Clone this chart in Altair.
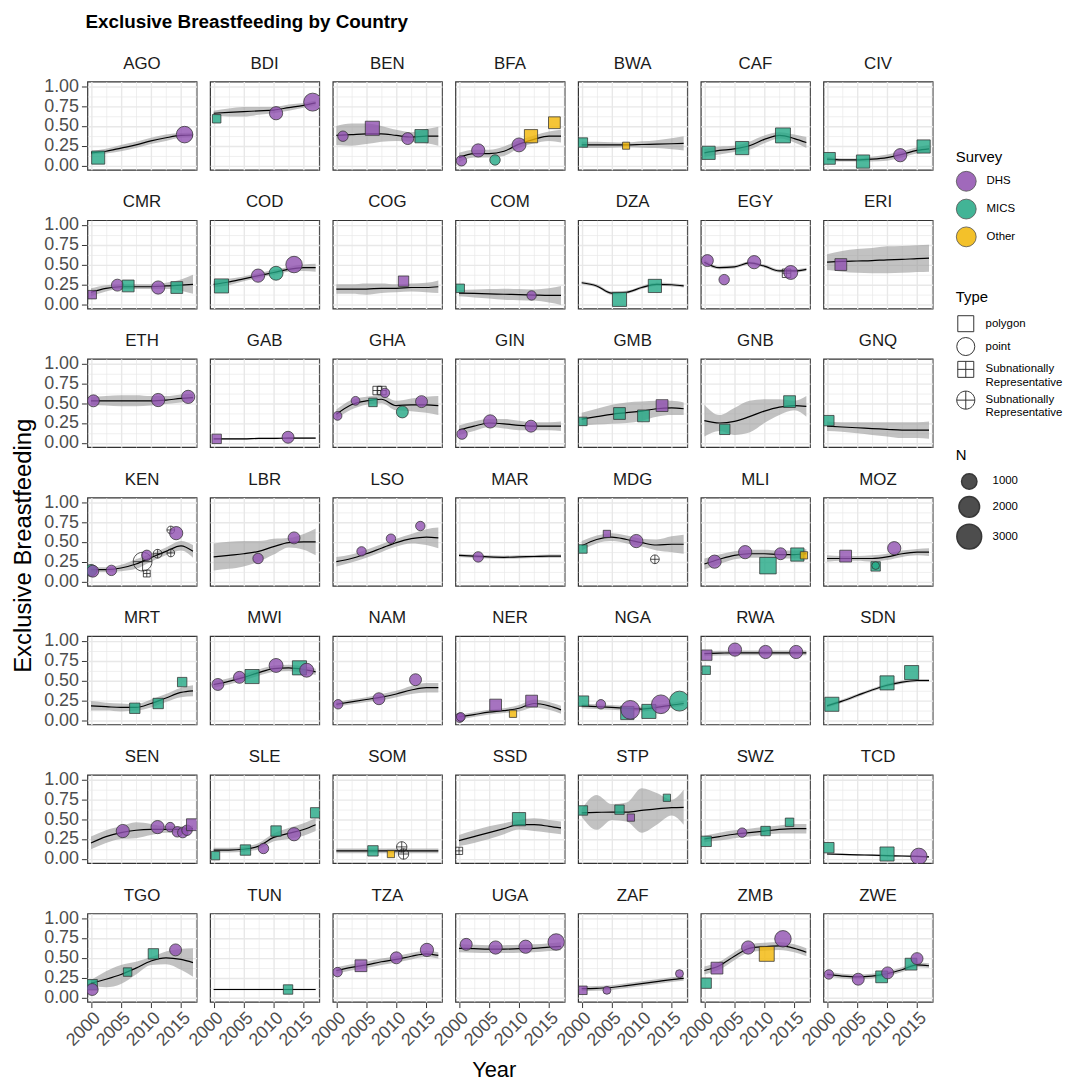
import altair as alt
import pandas as pd

FONT = "Liberation Sans"

COUNTRIES = ["AGO", "BDI", "BEN", "BFA", "BWA", "CAF", "CIV",
             "CMR", "COD", "COG", "COM", "DZA", "EGY", "ERI",
             "ETH", "GAB", "GHA", "GIN", "GMB", "GNB", "GNQ",
             "KEN", "LBR", "LSO", "MAR", "MDG", "MLI", "MOZ",
             "MRT", "MWI", "NAM", "NER", "NGA", "RWA", "SDN",
             "SEN", "SLE", "SOM", "SSD", "STP", "SWZ", "TCD",
             "TGO", "TUN", "TZA", "UGA", "ZAF", "ZMB", "ZWE"]

FIT_YEARS = [2000, 2002.5, 2005, 2007.5, 2010, 2012.5, 2015, 2017]

SURVEYS = ["DHS", "MICS", "Other"]
SURVEY_COLORS = ["#9050B0", "#22A884", "#F2B705"]
TYPES = ["polygon", "point", "subpoly", "subpoint"]

# points: (year, value, survey, type, N)
AGO_PTS = [(2001.2, 0.10, "MICS", "polygon", 900), (2015.6, 0.39, "DHS", "point", 1200)]
AGO_FIT = [0.16, 0.18, 0.22, 0.26, 0.31, 0.35, 0.38, 0.385]
AGO_BW = [0.02, 0.03, 0.04, 0.04, 0.04, 0.04, 0.03, 0.03]

BDI_PTS = [(2000.5, 0.59, "MICS", "polygon", 230), (2010.4, 0.66, "DHS", "point", 670), (2016.5, 0.80, "DHS", "point", 1450)]
BDI_FIT = [0.66, 0.67, 0.68, 0.69, 0.70, 0.73, 0.76, 0.79]
BDI_BW = [0.03, 0.05, 0.06, 0.05, 0.04, 0.04, 0.03, 0.03]

BEN_PTS = [(2001.1, 0.37, "DHS", "point", 320), (2006.0, 0.47, "DHS", "polygon", 1080), (2011.9, 0.34, "DHS", "point", 500), (2014.2, 0.37, "MICS", "polygon", 920)]
BEN_FIT = [0.38, 0.39, 0.40, 0.40, 0.38, 0.36, 0.37, 0.37]
BEN_BW = [0.12, 0.14, 0.13, 0.10, 0.07, 0.06, 0.09, 0.12]

BFA_PTS = [(2000.4, 0.06, "DHS", "point", 320), (2003.2, 0.19, "DHS", "point", 670), (2006.0, 0.07, "MICS", "point", 320), (2010.0, 0.26, "DHS", "point", 770), (2012.0, 0.37, "Other", "polygon", 920), (2015.9, 0.54, "Other", "polygon", 680)]
BFA_FIT = [0.10, 0.15, 0.15, 0.18, 0.27, 0.33, 0.37, 0.37]
BFA_BW = [0.06, 0.05, 0.05, 0.06, 0.05, 0.05, 0.06, 0.08]

BWA_PTS = [(2000.2, 0.29, "MICS", "polygon", 340), (2007.4, 0.25, "Other", "polygon", 80)]
BWA_FIT = [0.26, 0.26, 0.26, 0.26, 0.265, 0.27, 0.275, 0.28]
BWA_BW = [0.04, 0.04, 0.035, 0.03, 0.04, 0.05, 0.07, 0.09]

CAF_PTS = [(2000.7, 0.16, "MICS", "polygon", 920), (2006.3, 0.22, "MICS", "polygon", 920), (2013.1, 0.38, "MICS", "polygon", 1250)]
CAF_FIT = [0.16, 0.19, 0.21, 0.25, 0.33, 0.38, 0.34, 0.29]
CAF_BW = [0.05, 0.05, 0.04, 0.05, 0.05, 0.04, 0.05, 0.07]

CIV_PTS = [(2000.4, 0.09, "MICS", "polygon", 680), (2006.0, 0.05, "MICS", "polygon", 920), (2012.2, 0.13, "DHS", "point", 670), (2016.1, 0.24, "MICS", "polygon", 920)]
CIV_FIT = [0.08, 0.07, 0.07, 0.08, 0.10, 0.14, 0.19, 0.21]
CIV_BW = [0.03, 0.02, 0.02, 0.03, 0.04, 0.04, 0.04, 0.05]

CMR_PTS = [(2000.2, 0.12, "DHS", "polygon", 230), (2004.4, 0.24, "DHS", "point", 500), (2006.2, 0.23, "MICS", "polygon", 680), (2011.2, 0.21, "DHS", "point", 670), (2014.3, 0.21, "MICS", "polygon", 680)]
CMR_FIT = [0.15, 0.20, 0.22, 0.22, 0.22, 0.23, 0.24, 0.25]
CMR_BW = [0.05, 0.04, 0.03, 0.03, 0.03, 0.04, 0.07, 0.12]

COD_PTS = [(2001.3, 0.23, "MICS", "polygon", 1080), (2007.4, 0.36, "DHS", "point", 670), (2010.4, 0.39, "MICS", "point", 770), (2013.4, 0.50, "DHS", "point", 1180)]
COD_FIT = [0.25, 0.28, 0.32, 0.36, 0.40, 0.44, 0.46, 0.46]
COD_BW = [0.04, 0.04, 0.03, 0.03, 0.03, 0.03, 0.04, 0.05]

COG_PTS = [(2011.2, 0.29, "DHS", "polygon", 470)]
COG_FIT = [0.19, 0.19, 0.19, 0.20, 0.20, 0.21, 0.21, 0.22]
COG_BW = [0.06, 0.06, 0.07, 0.06, 0.05, 0.05, 0.06, 0.08]

COM_PTS = [(2000.2, 0.20, "MICS", "polygon", 230), (2012.1, 0.11, "DHS", "point", 215)]
COM_FIT = [0.14, 0.135, 0.13, 0.125, 0.12, 0.115, 0.11, 0.11]
COM_BW = [0.04, 0.05, 0.06, 0.07, 0.07, 0.07, 0.09, 0.12]

DZA_PTS = [(2006.3, 0.06, "MICS", "polygon", 1080), (2012.2, 0.23, "MICS", "polygon", 920)]
DZA_FIT = [0.27, 0.23, 0.14, 0.15, 0.21, 0.25, 0.245, 0.23]
DZA_BW = [0.02, 0.02, 0.02, 0.02, 0.02, 0.02, 0.02, 0.02]

EGY_PTS = [(2000.5, 0.55, "DHS", "point", 500), (2003.3, 0.31, "DHS", "point", 320), (2008.3, 0.53, "DHS", "point", 670), (2013.7, 0.39, "DHS", "subpoly", 230), (2014.4, 0.40, "DHS", "point", 770)]
EGY_FIT = [0.53, 0.46, 0.47, 0.52, 0.48, 0.42, 0.42, 0.44]
EGY_BW = [0.03, 0.02, 0.02, 0.02, 0.02, 0.02, 0.02, 0.02]

ERI_PTS = [(2002.3, 0.50, "DHS", "polygon", 680)]
ERI_FIT = [0.53, 0.54, 0.545, 0.55, 0.56, 0.565, 0.575, 0.58]
ERI_BW = [0.10, 0.13, 0.15, 0.16, 0.17, 0.17, 0.17, 0.17]

ETH_PTS = [(2000.4, 0.53, "DHS", "point", 500), (2011.2, 0.54, "DHS", "point", 670), (2016.2, 0.58, "DHS", "point", 670)]
ETH_FIT = [0.53, 0.53, 0.53, 0.53, 0.53, 0.54, 0.56, 0.57]
ETH_BW = [0.05, 0.06, 0.07, 0.07, 0.06, 0.05, 0.05, 0.05]

GAB_PTS = [(2000.5, 0.05, "DHS", "polygon", 340), (2012.4, 0.07, "DHS", "point", 500)]
GAB_FIT = [0.05, 0.05, 0.05, 0.055, 0.055, 0.06, 0.06, 0.06]
GAB_BW = [0.01, 0.01, 0.01, 0.01, 0.01, 0.01, 0.01, 0.01]

GHA_PTS = [(2000.2, 0.34, "DHS", "point", 150), (2003.2, 0.53, "DHS", "point", 150), (2006.1, 0.51, "MICS", "polygon", 230), (2006.8, 0.66, "DHS", "subpoly", 230), (2007.6, 0.66, "DHS", "subpoly", 230), (2008.1, 0.63, "DHS", "point", 215), (2011.0, 0.39, "MICS", "point", 500), (2014.2, 0.52, "DHS", "point", 500)]
GHA_FIT = [0.36, 0.48, 0.53, 0.55, 0.47, 0.48, 0.48, 0.47]
GHA_BW = [0.06, 0.06, 0.05, 0.05, 0.06, 0.08, 0.10, 0.12]

GIN_PTS = [(2000.5, 0.11, "DHS", "point", 320), (2005.2, 0.27, "DHS", "point", 670), (2012.0, 0.21, "DHS", "point", 500)]
GIN_FIT = [0.16, 0.21, 0.25, 0.24, 0.22, 0.21, 0.21, 0.21]
GIN_BW = [0.06, 0.06, 0.05, 0.06, 0.06, 0.05, 0.05, 0.06]

GMB_PTS = [(2000.2, 0.27, "MICS", "polygon", 230), (2006.3, 0.37, "MICS", "polygon", 680), (2010.3, 0.34, "MICS", "polygon", 680), (2013.4, 0.47, "DHS", "polygon", 680)]
GMB_FIT = [0.30, 0.33, 0.36, 0.38, 0.40, 0.43, 0.44, 0.43]
GMB_BW = [0.08, 0.10, 0.12, 0.13, 0.12, 0.10, 0.09, 0.08]

GNB_PTS = [(2003.4, 0.17, "MICS", "polygon", 470), (2014.2, 0.52, "MICS", "polygon", 680)]
GNB_FIT = [0.28, 0.25, 0.27, 0.33, 0.40, 0.45, 0.47, 0.46]
GNB_BW = [0.20, 0.10, 0.17, 0.20, 0.15, 0.10, 0.06, 0.13]

GNQ_PTS = [(2000.3, 0.28, "MICS", "polygon", 470)]
GNQ_FIT = [0.21, 0.20, 0.19, 0.18, 0.17, 0.16, 0.16, 0.16]
GNQ_BW = [0.06, 0.06, 0.07, 0.08, 0.09, 0.10, 0.10, 0.11]

KEN_PTS = [(2000.0, 0.14, "MICS", "point", 500), (2000.3, 0.13, "DHS", "point", 500), (2003.4, 0.14, "DHS", "point", 320), (2008.6, 0.25, "DHS", "subpoint", 1600), (2009.3, 0.10, "DHS", "subpoly", 60), (2009.3, 0.33, "DHS", "point", 320), (2011.1, 0.35, "DHS", "subpoint", 150), (2013.3, 0.65, "DHS", "subpoint", 60), (2013.3, 0.36, "DHS", "subpoint", 60), (2014.2, 0.61, "DHS", "point", 670)]
KEN_FIT = [0.15, 0.15, 0.17, 0.22, 0.30, 0.38, 0.45, 0.38]
KEN_BW = [0.03, 0.03, 0.04, 0.06, 0.05, 0.05, 0.06, 0.08]

LBR_PTS = [(2007.4, 0.29, "DHS", "point", 320), (2013.4, 0.55, "DHS", "point", 500)]
LBR_FIT = [0.31, 0.33, 0.35, 0.38, 0.44, 0.49, 0.50, 0.50]
LBR_BW = [0.17, 0.17, 0.16, 0.13, 0.10, 0.06, 0.10, 0.17]

LSO_PTS = [(2004.2, 0.38, "DHS", "point", 215), (2009.1, 0.54, "DHS", "point", 215), (2014.0, 0.70, "DHS", "point", 215)]
LSO_FIT = [0.25, 0.29, 0.35, 0.42, 0.49, 0.54, 0.56, 0.55]
LSO_BW = [0.06, 0.05, 0.05, 0.05, 0.05, 0.06, 0.10, 0.13]

MAR_PTS = [(2003.2, 0.31, "DHS", "point", 320)]
MAR_FIT = [0.33, 0.32, 0.31, 0.305, 0.31, 0.315, 0.32, 0.32]
MAR_BW = [0.02, 0.02, 0.02, 0.02, 0.02, 0.02, 0.02, 0.02]

MDG_PTS = [(2000.2, 0.41, "MICS", "polygon", 230), (2004.2, 0.60, "DHS", "polygon", 100), (2009.1, 0.51, "DHS", "point", 670), (2012.2, 0.28, "DHS", "subpoint", 150)]
MDG_FIT = [0.45, 0.53, 0.56, 0.53, 0.49, 0.46, 0.47, 0.47]
MDG_BW = [0.06, 0.05, 0.05, 0.05, 0.05, 0.07, 0.10, 0.12]

MLI_PTS = [(2001.7, 0.25, "DHS", "point", 670), (2006.8, 0.37, "DHS", "point", 670), (2010.6, 0.20, "MICS", "polygon", 1580), (2012.7, 0.35, "DHS", "point", 500), (2015.5, 0.34, "MICS", "polygon", 920), (2016.6, 0.33, "Other", "polygon", 100)]
MLI_FIT = [0.22, 0.28, 0.33, 0.35, 0.35, 0.34, 0.34, 0.35]
MLI_BW = [0.07, 0.06, 0.05, 0.05, 0.05, 0.05, 0.05, 0.06]

MOZ_PTS = [(2003.1, 0.32, "DHS", "polygon", 680), (2008.1, 0.19, "MICS", "polygon", 340), (2008.1, 0.20, "MICS", "point", 60), (2011.2, 0.42, "DHS", "point", 670)]
MOZ_FIT = [0.29, 0.29, 0.29, 0.29, 0.31, 0.35, 0.37, 0.37]
MOZ_BW = [0.04, 0.03, 0.03, 0.04, 0.04, 0.04, 0.04, 0.05]

MRT_PTS = [(2007.3, 0.15, "MICS", "polygon", 470), (2011.2, 0.21, "MICS", "polygon", 470), (2015.2, 0.48, "MICS", "polygon", 340)]
MRT_FIT = [0.18, 0.17, 0.16, 0.16, 0.21, 0.28, 0.35, 0.37]
MRT_BW = [0.06, 0.05, 0.05, 0.04, 0.05, 0.05, 0.06, 0.07]

MWI_PTS = [(2000.7, 0.45, "DHS", "point", 500), (2004.3, 0.54, "DHS", "point", 500), (2006.4, 0.55, "MICS", "polygon", 1080), (2010.4, 0.69, "DHS", "point", 770), (2014.3, 0.66, "MICS", "polygon", 1080), (2015.5, 0.63, "DHS", "point", 770)]
MWI_FIT = [0.45, 0.49, 0.54, 0.60, 0.65, 0.66, 0.64, 0.61]
MWI_BW = [0.04, 0.04, 0.04, 0.04, 0.04, 0.04, 0.04, 0.04]

NAM_PTS = [(2000.3, 0.20, "DHS", "point", 215), (2007.1, 0.27, "DHS", "point", 500), (2013.2, 0.51, "DHS", "point", 500)]
NAM_FIT = [0.20, 0.23, 0.26, 0.29, 0.33, 0.38, 0.41, 0.41]
NAM_BW = [0.03, 0.03, 0.03, 0.04, 0.04, 0.05, 0.06, 0.06]

NER_PTS = [(2000.1, 0.03, "DHS", "point", 215), (2000.3, 0.04, "DHS", "point", 150), (2006.1, 0.19, "DHS", "polygon", 680), (2009.0, 0.08, "Other", "polygon", 100), (2012.1, 0.24, "DHS", "polygon", 680)]
NER_FIT = [0.04, 0.07, 0.10, 0.12, 0.15, 0.21, 0.18, 0.13]
NER_BW = [0.03, 0.03, 0.03, 0.03, 0.04, 0.05, 0.05, 0.05]

NGA_PTS = [(2000.3, 0.24, "MICS", "polygon", 470), (2003.2, 0.20, "DHS", "point", 215), (2007.6, 0.09, "MICS", "polygon", 920), (2008.1, 0.13, "DHS", "point", 1600), (2011.2, 0.11, "MICS", "polygon", 1080), (2013.2, 0.20, "DHS", "point", 1600), (2016.3, 0.24, "MICS", "point", 1850)]
NGA_FIT = [0.18, 0.17, 0.16, 0.15, 0.14, 0.16, 0.19, 0.21]
NGA_BW = [0.03, 0.03, 0.03, 0.03, 0.03, 0.03, 0.03, 0.03]

RWA_PTS = [(2000.4, 0.82, "DHS", "polygon", 470), (2000.3, 0.63, "MICS", "polygon", 230), (2005.1, 0.89, "DHS", "point", 670), (2010.2, 0.86, "DHS", "point", 670), (2015.3, 0.86, "DHS", "point", 670)]
RWA_FIT = [0.84, 0.845, 0.85, 0.85, 0.85, 0.85, 0.85, 0.85]
RWA_BW = [0.03, 0.03, 0.03, 0.03, 0.03, 0.03, 0.03, 0.03]

SDN_PTS = [(2000.8, 0.20, "MICS", "polygon", 1080), (2010.0, 0.47, "MICS", "polygon", 1080), (2014.1, 0.60, "MICS", "polygon", 1080)]
SDN_FIT = [0.18, 0.24, 0.31, 0.38, 0.44, 0.48, 0.50, 0.50]
SDN_BW = [0.02, 0.02, 0.02, 0.02, 0.02, 0.02, 0.02, 0.02]

SEN_PTS = [(2005.3, 0.35, "DHS", "point", 670), (2011.1, 0.40, "DHS", "point", 670), (2013.2, 0.40, "DHS", "point", 215), (2014.4, 0.34, "DHS", "point", 320), (2015.3, 0.33, "DHS", "point", 320), (2016.0, 0.36, "DHS", "point", 320), (2016.9, 0.43, "DHS", "polygon", 680)]
SEN_FIT = [0.20, 0.28, 0.33, 0.36, 0.37, 0.37, 0.37, 0.38]
SEN_BW = [0.08, 0.08, 0.08, 0.10, 0.07, 0.04, 0.04, 0.04]

SLE_PTS = [(2000.3, 0.04, "MICS", "polygon", 230), (2005.3, 0.11, "MICS", "polygon", 470), (2008.3, 0.13, "DHS", "point", 320), (2010.4, 0.35, "MICS", "polygon", 470), (2013.4, 0.31, "DHS", "point", 670), (2017.0, 0.58, "MICS", "polygon", 470)]
SLE_FIT = [0.11, 0.11, 0.12, 0.16, 0.27, 0.32, 0.37, 0.43]
SLE_BW = [0.03, 0.03, 0.03, 0.04, 0.05, 0.07, 0.08, 0.08]

SOM_PTS = [(2006.1, 0.10, "MICS", "polygon", 470), (2009.1, 0.06, "Other", "polygon", 100), (2010.9, 0.15, "DHS", "subpoint", 320), (2011.2, 0.06, "DHS", "subpoint", 320)]
SOM_FIT = [0.10, 0.10, 0.10, 0.10, 0.10, 0.10, 0.10, 0.10]
SOM_BW = [0.03, 0.03, 0.03, 0.03, 0.03, 0.03, 0.03, 0.03]

SSD_PTS = [(2000.0, 0.10, "DHS", "subpoly", 100), (2010.0, 0.50, "MICS", "polygon", 920)]
SSD_FIT = [0.23, 0.28, 0.33, 0.38, 0.43, 0.43, 0.41, 0.39]
SSD_BW = [0.07, 0.08, 0.08, 0.07, 0.06, 0.08, 0.08, 0.08]

STP_PTS = [(2000.2, 0.61, "MICS", "polygon", 340), (2006.3, 0.62, "MICS", "polygon", 340), (2008.2, 0.52, "DHS", "polygon", 100), (2014.2, 0.77, "MICS", "polygon", 100)]
STP_FIT = [0.58, 0.585, 0.59, 0.59, 0.61, 0.63, 0.645, 0.65]
STP_BW = [0.05, 0.22, 0.10, 0.12, 0.28, 0.20, 0.10, 0.22]

SWZ_PTS = [(2000.3, 0.22, "MICS", "polygon", 470), (2006.3, 0.33, "DHS", "point", 215), (2010.2, 0.35, "MICS", "polygon", 340), (2014.2, 0.46, "MICS", "polygon", 230)]
SWZ_FIT = [0.25, 0.28, 0.31, 0.33, 0.35, 0.37, 0.38, 0.38]
SWZ_BW = [0.04, 0.05, 0.05, 0.05, 0.05, 0.05, 0.06, 0.06]

TCD_PTS = [(2000.3, 0.14, "MICS", "polygon", 470), (2010.0, 0.06, "MICS", "polygon", 1080), (2015.3, 0.03, "DHS", "point", 1180)]
TCD_FIT = [0.06, 0.055, 0.05, 0.045, 0.04, 0.035, 0.03, 0.025]
TCD_BW = [0.01, 0.01, 0.01, 0.01, 0.01, 0.01, 0.01, 0.01]

TGO_PTS = [(2000.2, 0.16, "MICS", "polygon", 470), (2000.2, 0.10, "DHS", "point", 500), (2006.1, 0.32, "MICS", "polygon", 230), (2010.4, 0.55, "MICS", "polygon", 470), (2014.1, 0.60, "DHS", "point", 500)]
TGO_FIT = [0.18, 0.23, 0.29, 0.37, 0.46, 0.50, 0.48, 0.44]
TGO_BW = [0.04, 0.10, 0.12, 0.08, 0.05, 0.08, 0.13, 0.18]

TUN_PTS = [(2012.4, 0.10, "MICS", "polygon", 340)]
TUN_FIT = [0.10, 0.10, 0.10, 0.10, 0.10, 0.10, 0.10, 0.10]
TUN_BW = [0.01, 0.01, 0.01, 0.01, 0.01, 0.01, 0.01, 0.01]

TZA_PTS = [(2000.2, 0.32, "DHS", "point", 215), (2004.1, 0.40, "DHS", "polygon", 680), (2010.0, 0.50, "DHS", "point", 500), (2015.1, 0.60, "DHS", "point", 670)]
TZA_FIT = [0.34, 0.38, 0.41, 0.45, 0.48, 0.52, 0.55, 0.53]
TZA_BW = [0.04, 0.04, 0.04, 0.04, 0.04, 0.04, 0.04, 0.04]

UGA_PTS = [(2001.2, 0.67, "DHS", "point", 500), (2006.1, 0.63, "DHS", "point", 670), (2011.1, 0.64, "DHS", "point", 670), (2016.2, 0.70, "DHS", "point", 1180)]
UGA_FIT = [0.62, 0.615, 0.61, 0.61, 0.615, 0.62, 0.635, 0.645]
UGA_BW = [0.05, 0.05, 0.05, 0.05, 0.05, 0.05, 0.05, 0.05]

ZAF_PTS = [(2000.2, 0.09, "DHS", "polygon", 230), (2004.2, 0.09, "DHS", "point", 80), (2016.3, 0.30, "DHS", "point", 80)]
ZAF_FIT = [0.11, 0.115, 0.125, 0.15, 0.175, 0.20, 0.225, 0.24]
ZAF_BW = [0.03, 0.03, 0.03, 0.03, 0.03, 0.03, 0.03, 0.03]

ZMB_PTS = [(2000.3, 0.18, "MICS", "polygon", 470), (2002.1, 0.37, "DHS", "polygon", 680), (2007.3, 0.63, "DHS", "point", 670), (2010.4, 0.55, "Other", "polygon", 1250), (2013.1, 0.74, "DHS", "point", 1180)]
ZMB_FIT = [0.34, 0.40, 0.52, 0.62, 0.64, 0.65, 0.62, 0.57]
ZMB_BW = [0.05, 0.05, 0.05, 0.05, 0.05, 0.05, 0.05, 0.05]

ZWE_PTS = [(2000.3, 0.29, "DHS", "point", 215), (2005.2, 0.23, "DHS", "point", 500), (2009.1, 0.26, "MICS", "polygon", 680), (2010.1, 0.31, "DHS", "point", 500), (2014.0, 0.42, "MICS", "polygon", 680), (2015.0, 0.49, "DHS", "point", 500)]
ZWE_FIT = [0.29, 0.27, 0.26, 0.27, 0.30, 0.35, 0.41, 0.40]
ZWE_BW = [0.03, 0.03, 0.03, 0.03, 0.03, 0.03, 0.03, 0.03]

g = globals()
rows = []
for code in COUNTRIES:
    pts, fit, bw = g[code + "_PTS"], g[code + "_FIT"], g[code + "_BW"]
    for yr, f, b in zip(FIT_YEARS, fit, bw):
        rows.append(dict(country=code, kind="fit", year=yr, fit=f, lo=f - b, hi=f + b))
    for yr, v, s, t, n in pts:
        rows.append(dict(country=code, kind="pt", year=yr, value=v, survey=s, type=t, n=n))
df = pd.DataFrame(rows)

SQ = "M-0.886,-0.886H0.886V0.886H-0.886Z"
SHAPES = [SQ, "circle",
          SQ + " M0,-0.886V0.886 M-0.886,0H0.886",
          "M-1,0A1,1 0 1,0 1,0A1,1 0 1,0 -1,0Z M0,-1V1 M-1,0H1"]

xs = alt.Scale(domain=[1999.4, 2017.6], nice=False, zero=False)
ys = alt.Scale(domain=[-0.055, 1.06], nice=False, zero=False)

XMAJ = "datum.value % 5 == 0"
YMAJ = "abs(datum.value * 4 - round(datum.value * 4)) < 0.001"
x_axis = alt.Axis(
    values=[2000 + 2.5 * i for i in range(8)],
    labelExpr=XMAJ + " ? format(datum.value, 'd') : ''",
    labelAngle=315, labelAlign="right", labelBaseline="top",
    labelFontSize=18, labelColor="#4D4D4D", labelFont=FONT,
    labelOverlap=False, labelBound=False, labelFlush=False, labelPadding=1,
    tickOpacity={"condition": {"test": XMAJ, "value": 1}, "value": 0},
    gridWidth={"condition": {"test": XMAJ, "value": 1.4}, "value": 0.7},
    gridColor="#E8E8E8", domain=False, tickColor="#333333", tickSize=5, tickWidth=1,
)
y_axis = alt.Axis(
    values=[0.125 * i for i in range(9)],
    labelExpr=YMAJ + " ? format(datum.value, '.2f') : ''",
    labelFontSize=18, labelColor="#4D4D4D", labelFont=FONT,
    labelOverlap=False, labelBound=False, labelFlush=False, labelPadding=3,
    tickOpacity={"condition": {"test": YMAJ, "value": 1}, "value": 0},
    gridWidth={"condition": {"test": YMAJ, "value": 1.4}, "value": 0.7},
    gridColor="#E8E8E8", domain=False, tickColor="#333333", tickSize=5, tickWidth=1,
)

X = alt.X("year:Q", scale=xs, axis=x_axis, title=None)
IS_SUB = "datum.type == 'subpoly' || datum.type == 'subpoint'"

color_enc = alt.Color("survey:N", scale=alt.Scale(domain=SURVEYS, range=SURVEY_COLORS),
                      legend=alt.Legend(title="Survey", orient="none", legendX=875, legendY=69,
                                        symbolType="circle", symbolSize=400, symbolOpacity=0.85,
                                        symbolStrokeColor="#333333", symbolStrokeWidth=0.8,
                                        rowPadding=3, labelOffset=10, titlePadding=6))
shape_enc = alt.Shape("type:N", scale=alt.Scale(domain=TYPES, range=SHAPES),
                      legend=alt.Legend(title="Type", orient="none", legendX=875, legendY=210,
                                        symbolSize=330, symbolFillColor="white",
                                        symbolStrokeColor="#333333", symbolStrokeWidth=1,
                                        symbolOpacity=1, rowPadding=0, labelOffset=10, titlePadding=9,
                                        labelExpr="datum.value == 'polygon' || datum.value == 'point' ? datum.value : ['Subnationally', ' Representative']"))
size_enc = alt.Size("n:Q", scale=alt.Scale(domain=[0, 3000], range=[49, 625]),
                    legend=alt.Legend(title="N", orient="none", legendX=875, legendY=369,
                                      values=[1000, 2000, 3000], format="d", symbolType="circle",
                                      symbolFillColor="#3A3A3A", symbolStrokeColor="#222222",
                                      symbolOpacity=0.9, rowPadding=1, labelOffset=10, titlePadding=10))

band = alt.Chart().mark_area(interpolate="monotone", color="#9A9A9A", opacity=0.6, clip=True).encode(
    x=X, y=alt.Y("lo:Q", scale=ys, axis=y_axis, title=None), y2="hi:Q"
).transform_filter("datum.kind == 'fit'")

line = alt.Chart().mark_line(interpolate="monotone", color="black", strokeWidth=1.2, clip=True).encode(
    x=X, y=alt.Y("fit:Q", scale=ys, axis=y_axis, title=None)
).transform_filter("datum.kind == 'fit'")

# one point layer: subnational estimates are drawn hollow with a dark outline
pts = alt.Chart().mark_point(filled=True, clip=True, opacity=1, strokeWidth=0.85, strokeOpacity=0.9).encode(
    x=X, y=alt.Y("value:Q", scale=ys, axis=y_axis, title=None),
    color=color_enc, shape=shape_enc, size=size_enc,
    fillOpacity=alt.condition(IS_SUB, alt.value(0), alt.value(0.8)),
    stroke=alt.condition(IS_SUB, alt.value("#1A1A1A"), alt.value("#333333")),
).transform_filter("datum.kind == 'pt'")

layered = alt.layer(band, line, pts).properties(width=110, height=89)

facet = layered.facet(
    facet=alt.Facet("country:N", sort=COUNTRIES, title=None,
                    header=alt.Header(labelFontSize=17, labelPadding=9, labelFont=FONT,
                                      labelColor="#1A1A1A")),
    columns=7, data=df, spacing={"row": 21.7, "column": 11.6},
).properties(title=alt.TitleParams("Year", orient="bottom", anchor="middle", fontSize=22,
                                   fontWeight="normal", font=FONT, color="black", offset=11))

mid = alt.hconcat(facet).properties(
    title=alt.TitleParams("Exclusive Breastfeeding", orient="left", anchor="middle", fontSize=24,
                          fontWeight="normal", font=FONT, color="black", offset=8, dx=22))

chart = alt.vconcat(mid).properties(
    title=alt.TitleParams("Exclusive Breastfeeding by Country", anchor="start", fontSize=19,
                          fontWeight="bold", font=FONT, color="black", dx=74, offset=22),
    padding={"left": 3, "top": 1, "right": 5, "bottom": 5}
).configure_view(stroke="#333333", strokeWidth=1.2).configure_legend(
    titleFont=FONT, labelFont=FONT, titleFontSize=15, labelFontSize=11.5,
    titleFontWeight="normal", titleColor="black", labelColor="black"
)

chart.save("out.html", embed_options={"renderer": "svg", "actions": False})
